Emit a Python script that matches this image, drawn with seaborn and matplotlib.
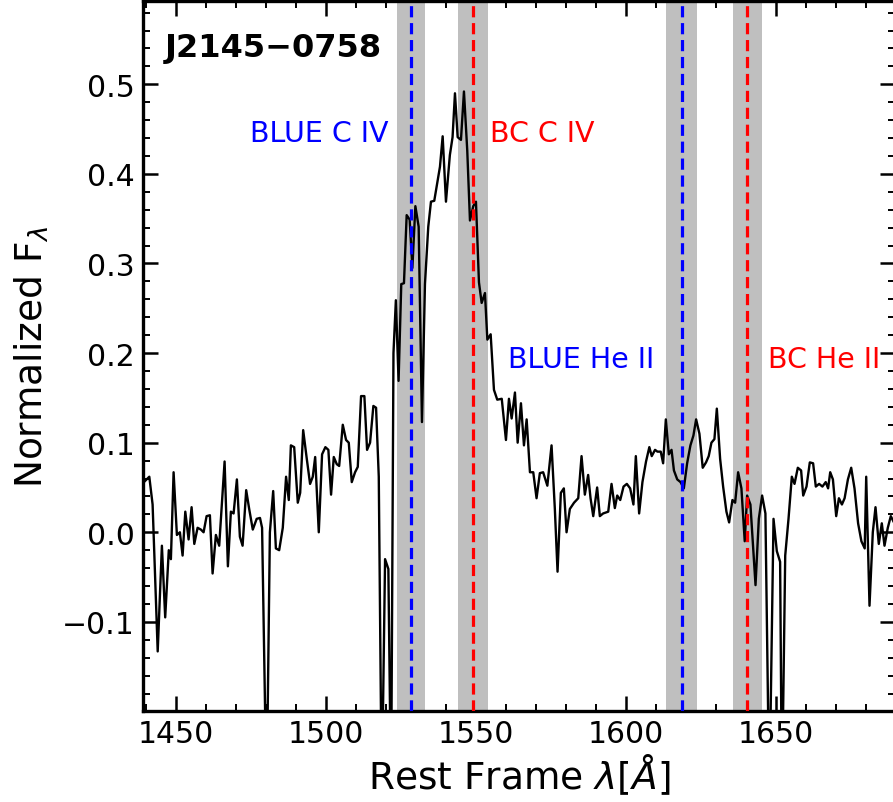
import matplotlib
matplotlib.use("Agg")
import matplotlib.pyplot as plt
import seaborn as sns
import pandas as pd
from matplotlib.ticker import MultipleLocator

# ---- data ----
wave = [1439.0, 1441.1, 1442.2, 1443.9, 1445.3, 1446.4, 1447.6, 1448.3, 1449.2, 1450.3,
        1451.3, 1452.2, 1453.1, 1454.2, 1455.2, 1456.1, 1457.2, 1458.3, 1459.2, 1460.2,
        1461.3, 1462.2, 1463.3, 1464.4, 1466.2, 1467.3, 1468.3, 1469.2, 1470.3, 1471.3,
        1472.2, 1473.4, 1474.4, 1475.6, 1476.9, 1478.0, 1478.7, 1480.2, 1481.3, 1482.4,
        1483.3, 1484.4, 1485.6, 1486.7, 1487.6, 1488.3, 1489.4, 1490.6, 1491.4, 1492.4,
        1493.6, 1494.7, 1495.6, 1496.4, 1497.6, 1498.7, 1499.8, 1500.8, 1501.7, 1502.6,
        1503.6, 1504.4, 1505.6, 1506.7, 1507.6, 1508.6, 1509.7, 1510.6, 1511.7, 1512.8,
        1513.7, 1514.7, 1515.8, 1516.7, 1517.6, 1518.6, 1519.7, 1520.8, 1521.7, 1522.5,
        1523.3, 1524.2, 1525.1, 1526.0, 1526.9, 1527.9, 1528.8, 1529.8, 1530.9, 1532.0,
        1533.0, 1534.1, 1535.0, 1536.1, 1537.2, 1538.0, 1538.9, 1540.0, 1541.3, 1542.2,
        1543.0, 1543.9, 1545.0, 1546.0, 1547.1, 1548.0, 1549.1, 1550.0, 1551.0, 1551.9,
        1553.0, 1553.8, 1554.9, 1556.0, 1557.1, 1558.6, 1560.0, 1561.0, 1561.9, 1563.0,
        1563.9, 1565.0, 1566.0, 1566.9, 1568.0, 1569.1, 1570.2, 1571.3, 1572.4, 1573.8,
        1575.2, 1576.3, 1577.2, 1578.3, 1579.3, 1580.2, 1581.3, 1582.7, 1584.1, 1585.2,
        1586.3, 1587.4, 1588.2, 1589.1, 1590.4, 1591.3, 1592.4, 1594.1, 1595.2, 1596.3,
        1597.1, 1598.1, 1599.2, 1600.3, 1601.4, 1602.5, 1603.3, 1604.4, 1605.5, 1606.7,
        1607.8, 1608.6, 1609.7, 1610.5, 1611.6, 1612.4, 1613.3, 1614.3, 1615.2, 1616.0,
        1617.1, 1618.2, 1619.3, 1620.4, 1621.5, 1622.5, 1623.4, 1624.5, 1625.6, 1626.7,
        1627.6, 1628.5, 1629.5, 1630.3, 1631.4, 1632.4, 1633.5, 1634.4, 1635.5, 1636.4,
        1637.4, 1638.5, 1639.6, 1640.4, 1641.5, 1643.2, 1644.3, 1645.4, 1646.5, 1647.8,
        1649.2, 1650.3, 1651.4, 1652.0, 1653.1, 1654.2, 1655.3, 1656.2, 1657.3, 1658.4,
        1659.1, 1660.2, 1661.3, 1662.4, 1663.3, 1664.4, 1665.5, 1666.6, 1667.4, 1668.1,
        1669.0, 1670.1, 1671.0, 1672.0, 1672.9, 1674.0, 1675.1, 1676.2, 1677.4, 1678.5,
        1679.6, 1680.1, 1681.2, 1682.3, 1683.2, 1684.3, 1685.3, 1686.2, 1687.3, 1688.3,
        1689.5]
flux = [0.055, 0.062, 0.031, -0.133, -0.015, -0.095, -0.020, -0.030, 0.067, -0.003,
        0.000, -0.026, 0.023, -0.008, 0.028, -0.013, 0.005, 0.003, 0.000, 0.018,
        0.019, -0.046, -0.003, -0.015, 0.079, -0.038, 0.023, 0.021, 0.059, -0.005,
        -0.015, 0.047, 0.026, 0.003, 0.015, 0.016, 0.005, -0.300, 0.000, 0.046,
        -0.018, -0.020, 0.005, 0.062, 0.036, 0.097, 0.095, 0.033, 0.044, 0.114,
        0.082, 0.054, 0.062, 0.084, 0.000, 0.087, 0.095, 0.092, 0.042, 0.084,
        0.076, 0.074, 0.120, 0.103, 0.100, 0.056, 0.067, 0.073, 0.152, 0.152,
        0.092, 0.100, 0.141, 0.139, 0.062, -0.300, -0.030, -0.041, -0.300, 0.200,
        0.259, 0.169, 0.277, 0.278, 0.354, 0.349, 0.295, 0.364, 0.341, 0.123,
        0.277, 0.341, 0.369, 0.370, 0.392, 0.408, 0.442, 0.369, 0.421, 0.441,
        0.490, 0.441, 0.438, 0.492, 0.426, 0.348, 0.364, 0.369, 0.279, 0.256,
        0.267, 0.215, 0.221, 0.159, 0.148, 0.149, 0.103, 0.149, 0.127, 0.156,
        0.100, 0.144, 0.097, 0.126, 0.067, 0.067, 0.038, 0.066, 0.067, 0.052,
        0.097, 0.026, -0.044, 0.044, 0.049, 0.000, 0.026, 0.033, 0.038, 0.085,
        0.042, 0.064, 0.038, 0.018, 0.050, 0.018, 0.021, 0.023, 0.054, 0.027,
        0.041, 0.036, 0.051, 0.054, 0.049, 0.031, 0.085, 0.021, 0.056, 0.079,
        0.095, 0.085, 0.092, 0.090, 0.090, 0.077, 0.126, 0.087, 0.092, 0.069,
        0.059, 0.056, 0.049, 0.077, 0.097, 0.108, 0.126, 0.110, 0.072, 0.078,
        0.085, 0.100, 0.104, 0.138, 0.082, 0.051, 0.023, 0.011, 0.036, 0.033,
        0.067, 0.049, -0.010, 0.041, 0.031, -0.059, 0.015, 0.041, 0.021, -0.300,
        0.015, -0.021, -0.033, -0.300, -0.026, 0.015, 0.062, 0.054, 0.072, 0.069,
        0.041, 0.051, 0.078, 0.077, 0.051, 0.054, 0.051, 0.056, 0.049, 0.067,
        0.059, 0.018, 0.038, 0.031, 0.038, 0.059, 0.072, 0.049, 0.010, -0.010,
        -0.018, 0.062, -0.082, 0.000, 0.028, -0.013, 0.010, -0.015, 0.005, 0.018,
        0.010]

line_names = ["BLUE C IV", "BC C IV", "BLUE He II", "BC He II"]
line_waves = [1528.3, 1549.1, 1618.6, 1640.4]
line_colors = ["blue", "red", "blue", "red"]
band_halfwidth = [4.7, 5.0, 5.1, 4.8]
label_x = [1520.7, 1554.7, 1560.7, 1647.3]
label_y = [0.446, 0.446, 0.193, 0.193]
label_ha = ["right", "left", "left", "left"]
object_name = "J2145\u22120758"

# ---- figure ----
sns.set_style("ticks")
plt.rcParams["font.family"] = ["DejaVu Sans"]
plt.rcParams["mathtext.fontset"] = "dejavusans"
for key in ["text.color", "axes.labelcolor", "xtick.color", "ytick.color",
            "axes.edgecolor"]:
    plt.rcParams[key] = "black"

fig = plt.figure(figsize=(8.93, 8.03), dpi=100)
ax = fig.add_axes([143 / 893, 1 - 712 / 803, (895 - 143) / 893, 710 / 803])

for w, hw in zip(line_waves, band_halfwidth):
    ax.axvspan(w - hw, w + hw, color="#bfbfbf", lw=0, zorder=1)

df = pd.DataFrame({"wave": wave, "flux": flux})
sns.lineplot(data=df, x="wave", y="flux", ax=ax, color="black", lw=1.7,
             sort=False, estimator=None, zorder=3)

for w, c in zip(line_waves, line_colors):
    ax.axvline(w, color=c, ls=(0, (3.5, 1.8)), lw=2.3, zorder=4)

for name, x, y, c, ha in zip(line_names, label_x, label_y, line_colors, label_ha):
    ax.text(x, y, name, color=c, fontsize=20.5, ha=ha, va="center", zorder=5)

ax.text(0.029, 0.935, object_name, transform=ax.transAxes, fontsize=23,
        fontweight="bold", color="black", ha="left", va="center", zorder=5)

ax.set_xlim(1439.0, 1689.7)
ax.set_ylim(-0.1995, 0.593)
ax.xaxis.set_major_locator(MultipleLocator(50))
ax.xaxis.set_minor_locator(MultipleLocator(10))
ax.yaxis.set_major_locator(MultipleLocator(0.1))
ax.yaxis.set_minor_locator(MultipleLocator(0.02))
ax.tick_params(which="both", direction="in", top=True, right=True, color="black",
               labelcolor="black")
ax.tick_params(which="major", length=11, width=1.8, labelsize=21.5, pad=6)
ax.tick_params(which="minor", length=5, width=1.4)
for sp in ax.spines.values():
    sp.set_linewidth(2.4)
    sp.set_color("black")

ax.set_xlabel(r"Rest Frame $\lambda[\AA]$", fontsize=27, labelpad=2, color="black")
ax.set_ylabel(r"Normalized F$_\lambda$", fontsize=27, labelpad=8, color="black")

fig.savefig("out.png", dpi=100)
